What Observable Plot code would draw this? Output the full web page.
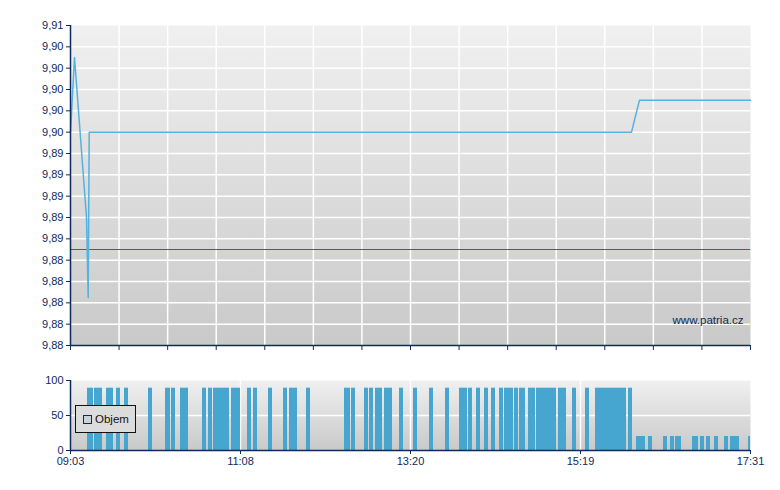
<!DOCTYPE html>
<html><head><meta charset="utf-8">
<script src="https://cdn.jsdelivr.net/npm/d3@7"></script>
<script src="https://cdn.jsdelivr.net/npm/@observablehq/plot@0.6"></script>
<style>
body{margin:0;background:#fff;}
#wrap{position:relative;width:780px;height:490px;font-family:"Liberation Sans",Arial,sans-serif;}
#top{position:absolute;left:0;top:0;}
#bot{position:absolute;left:0;top:365px;}
#legend{position:absolute;left:75px;top:405px;width:61px;height:28px;border:1px solid #111;background:#dcdcdc;box-sizing:border-box;font-size:11.5px;color:#111;}
#legend .sw{position:absolute;left:7px;top:9px;width:7px;height:7px;border:1px solid #1a2a3a;background:#c8d4da;}
#legend .lb{position:absolute;left:19px;top:7px;line-height:12px;}
</style></head><body>
<svg width="0" height="0" style="position:absolute"><defs>
<linearGradient id="bgGrad" x1="0" y1="0" x2="0" y2="1"><stop offset="0" stop-color="#f0f0f0"/><stop offset="1" stop-color="#c9c9c9"/></linearGradient>
</defs></svg>
<div id="wrap"><div id="top"></div><div id="bot"></div>
<div id="legend"><span class="sw"></span><span class="lb">Objem</span></div></div>
<script>
// session position units (0 = 09:03 open, 680 = 17:31 close)
const xDomain = [0, 680];
const xLabelPos = [0, 170, 340, 510, 680];
const xLabels = ["09:03", "11:08", "13:20", "15:19", "17:31"];
const xGridTop = d3.range(0, 681, 680 / 14);

// price
const priceX = [0, 4, 16, 17.7, 18.7, 561, 569, 680];
const priceY = [9.896, 9.903, 9.888, 9.8805, 9.896, 9.896, 9.899, 9.899];
const prevClose = 9.885;
const yDomain = [9.876, 9.906];
const yTicks = [9.876, 9.878, 9.880, 9.882, 9.884, 9.886, 9.888, 9.890, 9.892, 9.894, 9.896, 9.898, 9.900, 9.902, 9.904, 9.906];
const yTickLabels = ["9,88","9,88","9,88","9,88","9,88","9,89","9,89","9,89","9,89","9,89","9,90","9,90","9,90","9,90","9,90","9,91"];

// volume bars (start, end in session position units; value)
const volStart = [17,24,36,46,54,78,95,101,110,132,138,143,161,177,183,198,213,219,236,274,281,294,299,305,314,329,343,359,375,389,398,406,414,421,429,434,444,449,458,466,488,502,515,525,558,
  566,578,593,600,605,622,630,636,644,654,660,678];
const volEnd = [23,32,43,50,58,82,100,105,118,136,142,159,170,181,187,202,217,227,240,280,285,298,303,312,322,333,347,363,379,397,402,410,418,425,433,443,448,455,465,486,496,506,519,556,562,
  575,582,597,604,611,628,634,640,648,658,669,680];
const volValue = [89,89,89,89,89,89,89,89,89,89,89,89,89,89,89,89,89,89,89,89,89,89,89,89,89,89,89,89,89,89,89,89,89,89,89,89,89,89,89,89,89,89,89,89,89,
  20,20,20,20,20,20,20,20,20,20,20,20];
const volTicks = [0, 50, 100];

const navy = "#0f2a5c";
const price = priceX.map((x, i) => ({x, y: priceY[i]}));
const vol = volStart.map((s, i) => ({s, e: volEnd[i], v: volValue[i]}));
const yLab = new Map(yTicks.map((t, i) => [t, yTickLabels[i]]));
const xLab = new Map(xLabelPos.map((t, i) => [t, xLabels[i]]));

const topChart = Plot.plot({
  width: 780, height: 360,
  marginLeft: 70, marginRight: 30, marginTop: 25, marginBottom: 15,
  style: {background: "transparent", color: navy, fontFamily: "Liberation Sans, Arial, sans-serif", fontSize: "11px"},
  x: {domain: xDomain, axis: null},
  y: {domain: yDomain, axis: null},
  marks: [
    Plot.frame({fill: "url(#bgGrad)", stroke: null}),
    Plot.gridX(xGridTop.slice(1, -1), {stroke: "#fff", strokeOpacity: 1, strokeWidth: 1.5}),
    Plot.gridY(yTicks.slice(1, -1), {stroke: "#fff", strokeOpacity: 1, strokeWidth: 1.5}),
    Plot.ruleY([prevClose], {stroke: "#a83a3a", strokeWidth: 1}),
    Plot.line(price, {x: "x", y: "y", stroke: "#55b2dc", strokeWidth: 1.5}),
    Plot.text(["www.patria.cz"], {frameAnchor: "bottom-right", dx: -7, dy: -22, fill: navy, fontSize: 11.5}),
    Plot.ruleX([0], {stroke: navy, strokeWidth: 1.5}),
    Plot.ruleY([yDomain[0]], {stroke: navy, strokeWidth: 1.5}),
    Plot.axisY(yTicks, {tickSize: 4, tickPadding: 3, tickFormat: d => yLab.get(d), label: null, fontSize: 11}),
    Plot.axisX(xGridTop, {tickSize: 5, tickFormat: () => "", label: null})
  ]
});
document.getElementById("top").append(topChart);

const botChart = Plot.plot({
  width: 780, height: 125,
  marginLeft: 70, marginRight: 30, marginTop: 15, marginBottom: 40,
  style: {background: "transparent", color: navy, fontFamily: "Liberation Sans, Arial, sans-serif", fontSize: "11px"},
  x: {domain: xDomain, axis: null},
  y: {domain: [0, 100], axis: null},
  marks: [
    Plot.frame({fill: "url(#bgGrad)", stroke: null}),
    Plot.gridY([50], {stroke: "#fff", strokeOpacity: 1, strokeWidth: 1.5}),
    Plot.gridX(xLabelPos.slice(1, -1), {stroke: "#fff", strokeOpacity: 1, strokeWidth: 1.5}),
    Plot.rectY(vol, {x1: "s", x2: "e", y: "v", fill: "#46a6cf"}),
    Plot.ruleX([0], {stroke: navy, strokeWidth: 1.5}),
    Plot.ruleY([0], {stroke: navy, strokeWidth: 1.5}),
    Plot.axisY(volTicks, {tickSize: 4, tickPadding: 3, label: null, fontSize: 11}),
    Plot.axisX(xLabelPos, {tickSize: 4, tickPadding: 3, tickFormat: d => xLab.get(d), label: null, fontSize: 11})
  ]
});
document.getElementById("bot").append(botChart);
</script>
</body></html>
